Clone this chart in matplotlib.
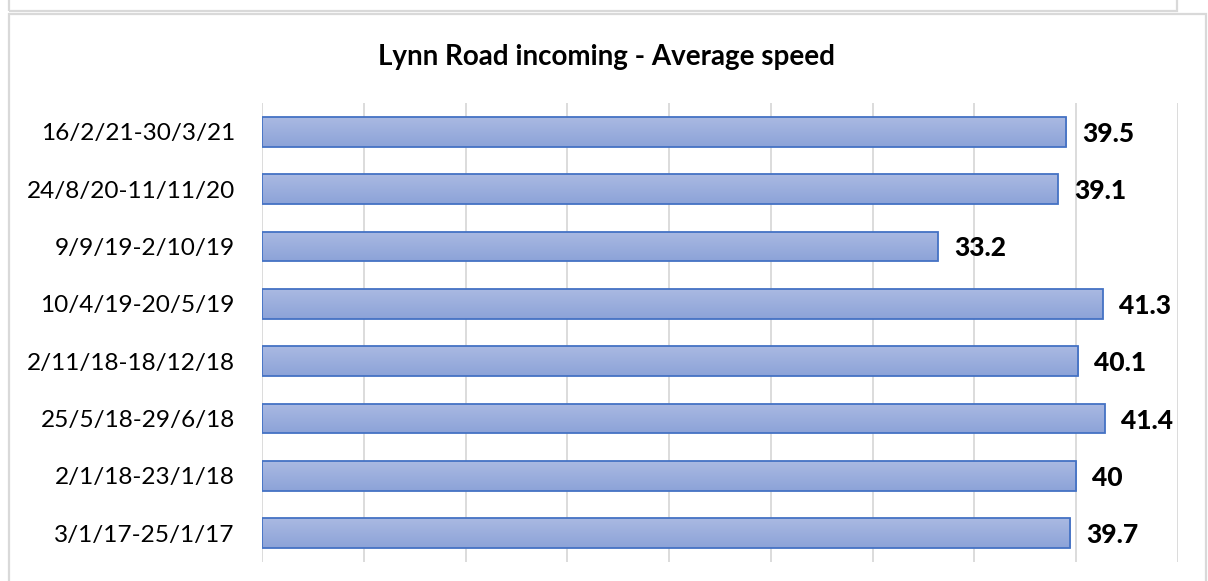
import matplotlib
matplotlib.use("Agg")
import matplotlib.pyplot as plt
import numpy as np
from matplotlib.patches import Rectangle
from matplotlib.colors import LinearSegmentedColormap

categories = ["16/2/21-30/3/21", "24/8/20-11/11/20", "9/9/19-2/10/19", "10/4/19-20/5/19",
              "2/11/18-18/12/18", "25/5/18-29/6/18", "2/1/18-23/1/18", "3/1/17-25/1/17"]
speeds = [39.5, 39.1, 33.2, 41.3, 40.1, 41.4, 40, 39.7]
label_texts = ["39.5", "39.1", "33.2", "41.3", "40.1", "41.4", "40", "39.7"]
title = "Lynn Road incoming - Average speed"

plt.rcParams['font.family'] = ['Lato', 'DejaVu Sans']

W, H = 1208, 581
fig = plt.figure(figsize=(W / 100, H / 100), dpi=100)
fig.patch.set_facecolor("white")

# frames
frame_col = "#d9d9d9"
fig.add_artist(Rectangle((9 / W, -0.1), (1206 - 9) / W, 1.1 - 14 / H,
                         transform=fig.transFigure, fill=False, edgecolor=frame_col, lw=1.6))
fig.add_artist(Rectangle((9 / W, 1 - 11 / H), (1177 - 9) / W, 0.2,
                         transform=fig.transFigure, fill=False, edgecolor=frame_col, lw=1.6))

ax = fig.add_axes([262 / W, 1 - 562 / H, (1178 - 262) / W, (562 - 103) / H])
y = np.arange(len(categories))
bars = ax.barh(y, speeds, height=0.52, color="none", edgecolor="#4472c4", linewidth=1.3, zorder=3)

cmap = LinearSegmentedColormap.from_list("g", ["#aab9e2", "#8ca3d8"])
grad = np.linspace(0, 1, 64).reshape(-1, 1)
for b in bars:
    x0, y0 = b.get_x(), b.get_y()
    w, h = b.get_width(), b.get_height()
    im = ax.imshow(grad, cmap=cmap, aspect="auto", extent=(x0, x0 + w, y0 + h, y0),
                   zorder=2, interpolation="bicubic")
    im.set_clip_path(b)
ax.set_xlim(0, 45)
ax.set_ylim(len(categories) - 0.5, -0.5)

for yi, v, t in zip(y, speeds, label_texts):
    ax.annotate(t, (v, yi), xytext=(16, -2), textcoords="offset pixels",
                ha="left", va="center", fontsize=19, fontweight="black", color="black")

ax.set_xticks(np.arange(0, 46, 5))
ax.xaxis.grid(True, color="#d9d9d9", lw=1.3, zorder=0)
ax.set_axisbelow(True)
ax.tick_params(axis="x", length=0, labelbottom=False)
ax.tick_params(axis="y", length=0, pad=19.5)
ax.set_yticks(y)
ax.set_yticklabels(categories, fontsize=17.6, color="black")
for s in ax.spines.values():
    s.set_visible(False)

fig.text(607 / W, 1 - 57 / H, title, ha="center", va="center", fontsize=20, fontweight="bold")

fig.savefig("out.png", dpi=100, facecolor="white")
